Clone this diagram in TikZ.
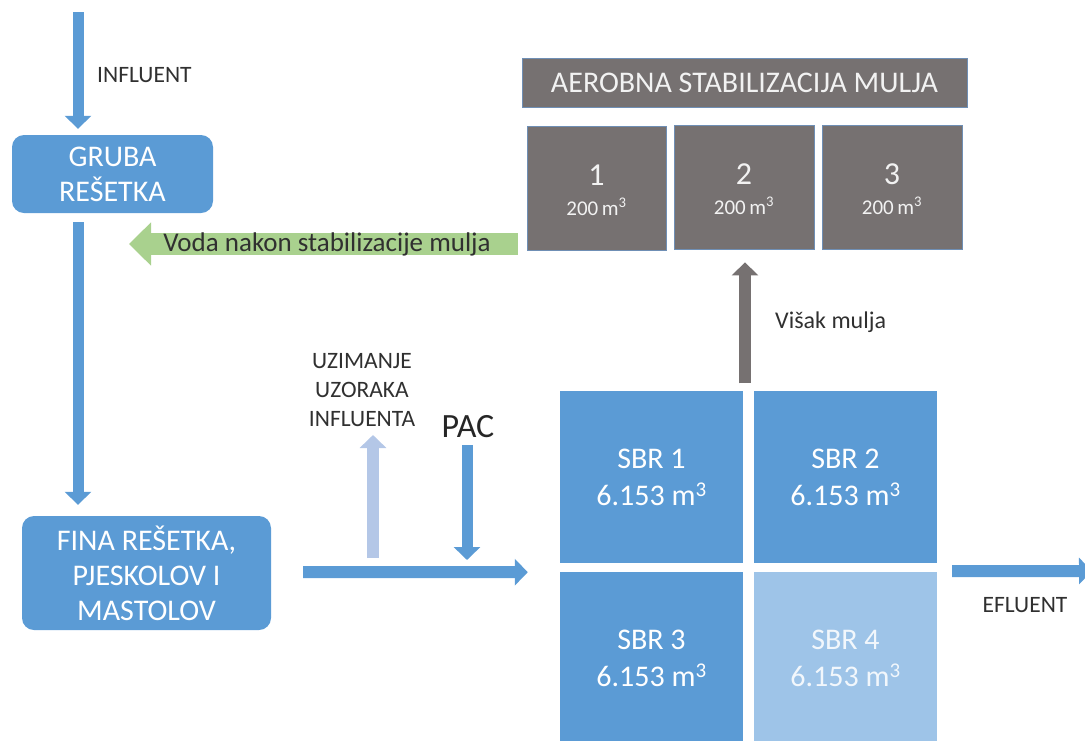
\documentclass[tikz,border=0pt]{standalone}
\usepackage{fontspec}
\setmainfont{Carlito}
\usetikzlibrary{arrows.meta,calc}
\definecolor{obblue}{HTML}{5B9BD5}
\definecolor{obgray}{HTML}{767171}
\definecolor{obgreen}{HTML}{A9D18E}
\definecolor{oblight}{HTML}{B4C7E7}
\definecolor{obpat}{HTML}{9EC4E8}
\definecolor{txtdark}{HTML}{303030}
\definecolor{boxedge}{HTML}{6F8FB5}
\tikzset{
  bluebox/.style={fill=obblue, rounded corners=12pt, text=white, align=center, inner sep=0pt,
    font=\fontsize{30}{35}\selectfont},
  sbrbox/.style={fill=obblue, text=white, align=center, inner sep=0pt,
    minimum width=183pt, minimum height=172pt, font=\fontsize{30}{37}\selectfont},
  graybox/.style={fill=obgray, draw=boxedge, line width=0.8pt, text=white!95!black, align=center, inner sep=0pt},
  numtxt/.style={text=white!95!black, inner sep=0pt, font=\fontsize{32}{36}\selectfont},
  voltxt/.style={text=white!95!black, inner sep=0pt, font=\fontsize{21}{24}\selectfont},
  lbl/.style={text=txtdark, font=\fontsize{23.5}{29}\selectfont, inner sep=0pt, align=center},
  barrow/.style={draw=obblue, line width=11pt, -{Triangle[width=26pt,length=13pt]}},
  larrow/.style={draw=oblight, line width=12pt, -{Triangle[width=26pt,length=13pt]}},
  garrow/.style={draw=obgray, line width=12pt, -{Triangle[width=26pt,length=13pt]}},
  grarrow/.style={draw=obgreen, line width=22pt, -{Triangle[width=42pt,length=22pt]}},
}
\begin{document}
\begin{tikzpicture}[x=1pt,y=-1pt]
\useasboundingbox (0,0) rectangle (1085,740);
% boxes
\node[bluebox, minimum width=201pt, minimum height=78pt] (gruba) at (112.5,174) {GRUBA\\REŠETKA};
\node[bluebox, minimum width=249pt, minimum height=114pt] (fina) at (146.5,573) {FINA REŠETKA,\\PJESKOLOV I\\MASTOLOV};
\node[graybox, minimum width=445pt, minimum height=49pt, font=\fontsize{30}{34}\selectfont] (head) at (744.5,82.5) {AEROBNA STABILIZACIJA MULJA};
\node[graybox, minimum width=139pt, minimum height=124pt] (a1) at (596.5,188) {};
\node[graybox, minimum width=140pt, minimum height=124pt] (a2) at (744,187) {};
\node[graybox, minimum width=140pt, minimum height=124pt] (a3) at (892,187) {};
\node[numtxt] (n1) at ($(a1)+(0,-13)$) {1};
\node[voltxt] (v1) at ($(a1)+(0,19)$) {200\,m\textsuperscript{3}};
\node[numtxt] (n2) at ($(a2)+(0,-13)$) {2};
\node[voltxt] (v2) at ($(a2)+(0,19)$) {200\,m\textsuperscript{3}};
\node[numtxt] (n3) at ($(a3)+(0,-13)$) {3};
\node[voltxt] (v3) at ($(a3)+(0,19)$) {200\,m\textsuperscript{3}};
\node[sbrbox] (s1) at (651.5,477) {SBR 1\\6.153 m\textsuperscript{3}};
\node[sbrbox] (s2) at (845.5,477) {SBR 2\\6.153 m\textsuperscript{3}};
\node[sbrbox] (s3) at (651.5,658) {SBR 3\\6.153 m\textsuperscript{3}};
\node[sbrbox, fill=obpat, text=white!92!obblue] (s4) at (845.5,658) {SBR 4\\6.153 m\textsuperscript{3}};
% coordinates
\coordinate (inTop) at (78,12);
\coordinate (effEnd) at (1092,571);
\coordinate (greenEnd) at (129,244);
\coordinate (uzTop) at (373,435);
\coordinate (pacTop) at (467,445);
% arrows
\draw[barrow] (inTop) -- ($(gruba.north)+(-34.5,-6)$);
\draw[barrow] ($(gruba.south)+(-34.5,9)$) -- ($(fina.north)+(-68.5,-11)$);
\draw[barrow, line width=12pt] ($(fina.east)+(32,-1)$) -- ($(s1.south west)+(-32,9)$);
\draw[larrow] (373,558) -- (uzTop);
\draw[barrow] (pacTop) -- (467,560);
\draw[barrow, line width=12pt] ($(s2.south east)+(15,8)$) -- (effEnd);
\draw[garrow] ($(a2.south)+(1,134)$) -- ($(a2.south)+(1,13)$);
\draw[grarrow] ($(a1.west)+(-9,56)$) -- (greenEnd);
% labels
\node[lbl, anchor=west] (linf) at (97,75) {INFLUENT};
\node[text=txtdark, font=\fontsize{27}{30}\selectfont, inner sep=0pt] (lvoda) at (327,244) {Voda nakon stabilizacije mulja};
\node[lbl, anchor=west, font=\fontsize{24}{29}\selectfont] (lvis) at (775,322) {Višak mulja};
\node[lbl] (luz) at (362,390) {UZIMANJE\\UZORAKA\\INFLUENTA};
\node[text=black!85, font=\fontsize{34}{38}\selectfont, inner sep=0pt] (lpac) at (468,427) {PAC};
\node[lbl] (leff) at (1025,605) {EFLUENT};
\end{tikzpicture}
\end{document}
